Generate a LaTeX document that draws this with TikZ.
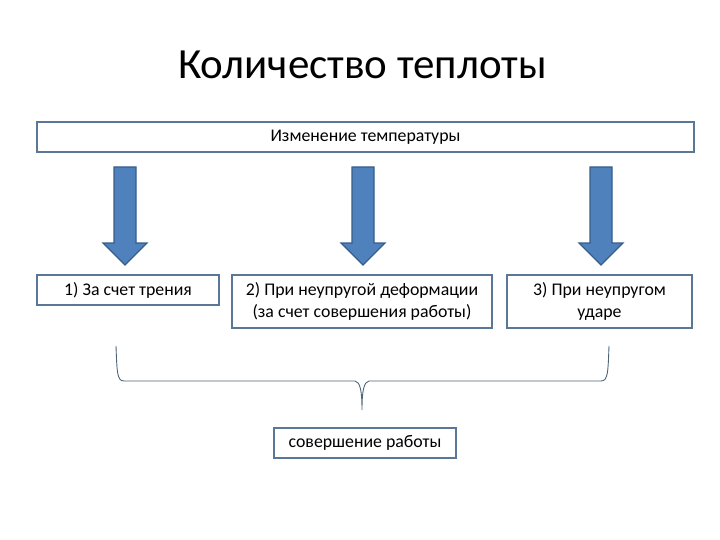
\documentclass[tikz,border=0pt]{standalone}
\usepackage{fontspec}
\setmainfont{Carlito}
\usetikzlibrary{calc}
\definecolor{boxline}{HTML}{5A7896}
\definecolor{arrowfill}{HTML}{4F81BD}
\definecolor{arrowline}{HTML}{385D8A}
\definecolor{braceline}{HTML}{4D6577}
\tikzset{
  textbox/.style={draw=boxline,line width=1.2pt,fill=white,align=center,inner sep=0pt,
    font=\fontsize{17.8}{22}\selectfont},
  blockarrow/.style={draw=arrowline,fill=arrowfill,line width=1.2pt}
}

\begin{document}
\begin{tikzpicture}[x=1pt,y=-1pt]
\useasboundingbox (0,0) rectangle (720,540);
\node[anchor=base,font=\fontsize{43}{52}\selectfont] (title) at (362.5,79) {Количество теплоты};
\node[textbox,minimum width=657pt,minimum height=30pt] (change) at (365.5,137) {Изменение температуры};
\node[textbox,minimum width=182pt,minimum height=30pt] (friction) at (128,290) {1) За счет трения};
\node[textbox,minimum width=260pt,minimum height=53pt] (deform) at (362,301.5) {2) При неупругой деформации\\(за счет совершения работы)};
\node[textbox,minimum width=185pt,minimum height=53pt] (impact) at (599.5,301.5) {3) При неупругом\\ударе};
\node[textbox,minimum width=182pt,minimum height=30pt] (work) at (365,443) {совершение работы};
% block arrows
\foreach \cx in {125,363,601}
  \draw[blockarrow] (\cx-11,167) -- (\cx+11,167) -- (\cx+11,243) -- (\cx+22,243)
    -- (\cx,265) -- (\cx-22,243) -- (\cx-11,243) -- cycle;
% brace
\coordinate (BL) at (116,346);
\coordinate (BR) at (609,346);
\coordinate (BM) at (362,410);
\draw[braceline,line width=0.9pt] (BL) .. controls (117,372) and (117,381) .. (124,381) -- (355,381)
  .. controls (360,382) and (362,390) .. (BM) .. controls (362,390) and (364,382) .. (369,381)
  -- (601,381) .. controls (608,381) and (608,372) .. (BR);
\end{tikzpicture}
\end{document}
